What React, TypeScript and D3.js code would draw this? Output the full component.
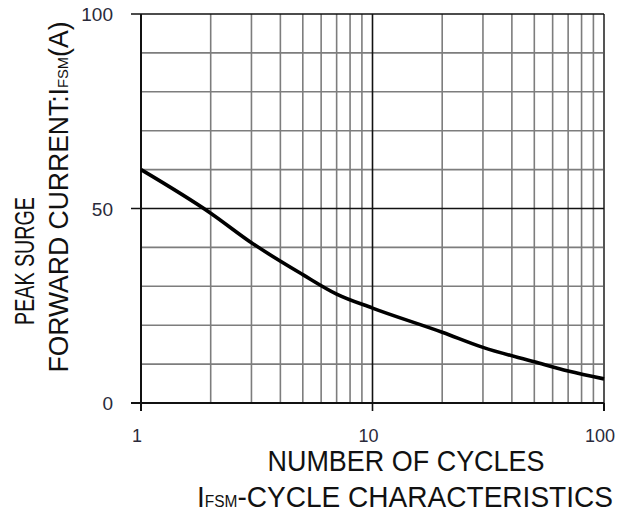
import * as d3 from 'd3';
import React, { useRef, useEffect } from 'react';

const cycles: number[] = [1, 2, 3, 5, 7, 10, 20, 30, 50, 70, 100];
const surgeAmps: number[] = [60, 48.8, 41.2, 33, 28, 24.4, 18.2, 14.3, 10.6, 8.2, 6.2];

const xTicks: number[] = [1, 10, 100];
const yTicks: number[] = [0, 50, 100];
const yGrid: number[] = d3.range(0, 101, 10);

function App(): any {
  const ref = useRef(null);

  const width = 630;
  const height = 515;
  const margin = { top: 14, right: 26, bottom: 112, left: 141 };

  useEffect(() => {
    document.body.style.margin = '0';

    const xScale = d3.scaleLog()
      .domain([1, 100])
      .range([margin.left, width - margin.right]);

    const yScale = d3.scaleLinear()
      .domain([0, 100])
      .range([height - margin.bottom, margin.top]);

    const svg = d3.select(ref.current);
    svg.selectAll('*').remove();

    const x0 = xScale(1);
    const x1 = xScale(100);
    const y0 = yScale(0);
    const y1 = yScale(100);

    // minor vertical grid: 2..9 in each decade
    const xGrid: number[] = [];
    for (const dec of [1, 10]) {
      for (let k = 2; k <= 9; k++) xGrid.push(dec * k);
    }

    const grid = svg.append('g').attr('class', 'grid');

    grid.selectAll('.vgrid')
      .data(xGrid)
      .enter().append('line')
      .attr('class', 'vgrid')
      .attr('x1', (d: number) => xScale(d))
      .attr('x2', (d: number) => xScale(d))
      .attr('y1', y1)
      .attr('y2', y0)
      .attr('stroke', '#7d7d7d')
      .attr('stroke-width', 1.6);

    grid.selectAll('.hgrid')
      .data(yGrid.filter((d) => d % 50 != 0))
      .enter().append('line')
      .attr('class', 'hgrid')
      .attr('x1', x0)
      .attr('x2', x1)
      .attr('y1', (d: number) => yScale(d))
      .attr('y2', (d: number) => yScale(d))
      .attr('stroke', '#7d7d7d')
      .attr('stroke-width', 1.6);

    // right border at 100 is a bit darker than the grid
    grid.append('line')
      .attr('x1', x1).attr('x2', x1)
      .attr('y1', y1).attr('y2', y0)
      .attr('stroke', '#555')
      .attr('stroke-width', 2);

    // major lines (10 cycles, 50 A, top)
    grid.append('line')
      .attr('x1', xScale(10)).attr('x2', xScale(10))
      .attr('y1', y1).attr('y2', y0 + 8)
      .attr('stroke', '#111')
      .attr('stroke-width', 1.6);

    grid.selectAll('.hmajor')
      .data([50, 100])
      .enter().append('line')
      .attr('class', 'hmajor')
      .attr('x1', x0 - 10)
      .attr('x2', x1)
      .attr('y1', (d: number) => yScale(d))
      .attr('y2', (d: number) => yScale(d))
      .attr('stroke', '#111')
      .attr('stroke-width', 1.6);

    // axes
    svg.append('line')
      .attr('x1', x0).attr('x2', x0)
      .attr('y1', y1).attr('y2', y0 + 8)
      .attr('stroke', '#111').attr('stroke-width', 2);

    svg.append('line')
      .attr('x1', x0 - 10).attr('x2', x1)
      .attr('y1', y0).attr('y2', y0)
      .attr('stroke', '#111').attr('stroke-width', 2);

    svg.append('line')
      .attr('x1', x1).attr('x2', x1)
      .attr('y1', y0).attr('y2', y0 + 8)
      .attr('stroke', '#111').attr('stroke-width', 2);

    const font = 'Liberation Sans, Arial, sans-serif';

    // tick labels
    svg.selectAll('.ylabel')
      .data(yTicks)
      .enter().append('text')
      .attr('class', 'ylabel')
      .attr('x', x0 - 28)
      .attr('y', (d: number) => yScale(d) + 7)
      .attr('text-anchor', 'end')
      .attr('font-family', font)
      .attr('font-size', 19)
      .attr('fill', '#2a2a3a')
      .text((d: number) => d.toString());

    svg.selectAll('.xlabel')
      .data(xTicks)
      .enter().append('text')
      .attr('class', 'xlabel')
      .attr('x', (d: number) => xScale(d) - 4)
      .attr('y', y0 + 39)
      .attr('text-anchor', 'middle')
      .attr('font-family', font)
      .attr('font-size', 18)
      .attr('fill', '#2a2a3a')
      .text((d: number) => d.toString());

    // the curve
    const line = d3.line<number>()
      .x((_: number, i: number) => xScale(cycles[i]))
      .y((d: number) => yScale(d))
      .curve(d3.curveMonotoneX);

    svg.append('path')
      .datum(surgeAmps)
      .attr('d', line)
      .attr('fill', 'none')
      .attr('stroke', '#000')
      .attr('stroke-width', 3.6);

    // axis titles
    svg.append('text')
      .attr('x', 406)
      .attr('y', 471)
      .attr('text-anchor', 'middle')
      .attr('font-family', font)
      .attr('font-size', 29)
      .attr('textLength', 277)
      .attr('lengthAdjust', 'spacingAndGlyphs')
      .attr('fill', '#111')
      .text('NUMBER OF CYCLES');

    const cap = svg.append('text')
      .attr('x', 405)
      .attr('y', 507)
      .attr('text-anchor', 'middle')
      .attr('font-family', font)
      .attr('font-size', 29)
      .attr('textLength', 416)
      .attr('lengthAdjust', 'spacingAndGlyphs')
      .attr('fill', '#111');
    cap.append('tspan').text('I');
    cap.append('tspan').attr('font-size', 16).text('FSM');
    cap.append('tspan').text('-CYCLE CHARACTERISTICS');

    svg.append('text')
      .attr('transform', 'translate(34,261) rotate(-90)')
      .attr('text-anchor', 'middle')
      .attr('font-family', font)
      .attr('font-size', 27)
      .attr('textLength', 128)
      .attr('lengthAdjust', 'spacingAndGlyphs')
      .attr('fill', '#111')
      .text('PEAK SURGE');

    const yt = svg.append('text')
      .attr('transform', 'translate(68,197) rotate(-90)')
      .attr('text-anchor', 'middle')
      .attr('font-family', font)
      .attr('font-size', 27)
      .attr('textLength', 351)
      .attr('lengthAdjust', 'spacingAndGlyphs')
      .attr('fill', '#111');
    yt.append('tspan').text('FORWARD CURRENT:I');
    yt.append('tspan').attr('font-size', 15).text('FSM');
    yt.append('tspan').text('(A)');
  }, []);

  return (
    <svg ref={ref} width={width} height={height} style={{ display: 'block', background: '#fff' }} />
  );
}

export default App;
